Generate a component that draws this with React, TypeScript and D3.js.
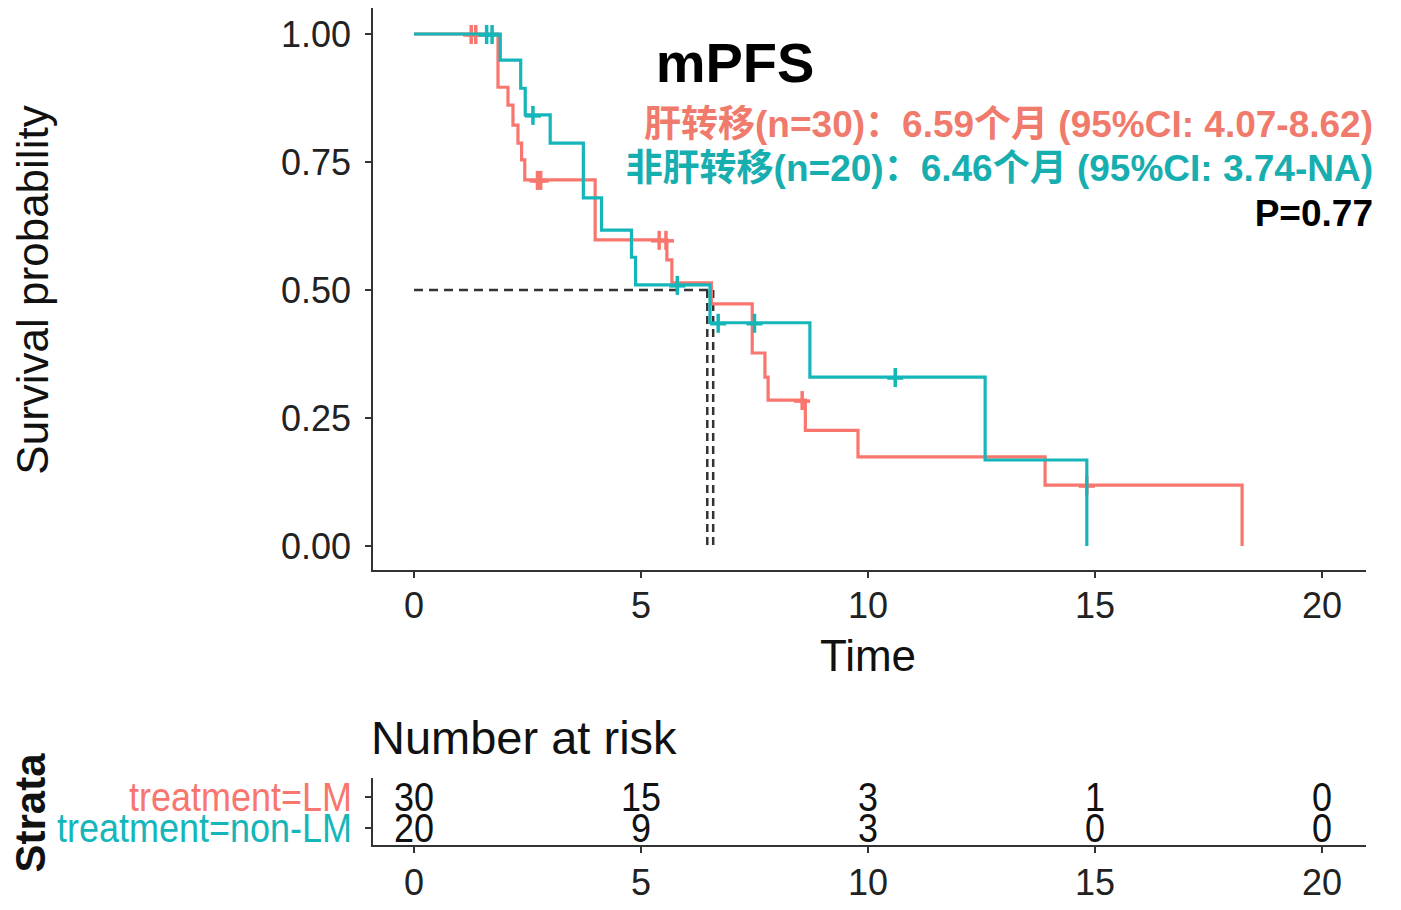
import React from "react";
import * as d3 from "d3";

// ---- Data ----
const lmTimes = [0, 1.85, 2.07, 2.18, 2.29, 2.37, 2.44, 3.99, 5.57, 5.68, 6.55, 7.45, 7.73, 7.8, 8.62, 9.78, 13.9, 18.24];
const lmSurv = [1, 0.896, 0.861, 0.822, 0.787, 0.754, 0.715, 0.598, 0.559, 0.514, 0.473, 0.377, 0.33, 0.285, 0.226, 0.174, 0.119, 0];
const lmCensor = [1.26, 1.36, 2.72, 2.79, 5.4, 5.55, 8.55, 14.82];

const nlmTimes = [0, 1.9, 2.35, 2.45, 3.0, 3.73, 4.13, 4.79, 4.88, 6.52, 8.72, 12.58, 14.82];
const nlmSurv = [1, 0.949, 0.894, 0.842, 0.787, 0.68, 0.617, 0.564, 0.51, 0.436, 0.33, 0.168, 0];
const nlmCensor = [1.6, 1.72, 2.62, 5.8, 6.7, 7.5, 10.6];

const medians = [6.46, 6.59];

const xTicks = [0, 5, 10, 15, 20];
const yTicks = [0, 0.25, 0.5, 0.75, 1];
const yTickLabels = ["0.00", "0.25", "0.50", "0.75", "1.00"];

const strataLabels = ["treatment=LM", "treatment=non-LM"];
const riskLM = [30, 15, 3, 1, 0];
const riskNLM = [20, 9, 3, 0, 0];

const annotLM = "肝转移(n=30)：6.59个月 (95%CI: 4.07-8.62)";
const annotNLM = "非肝转移(n=20)：6.46个月 (95%CI: 3.74-NA)";
const annotP = "P=0.77";
const title = "mPFS";

const RED = "#F8766D";
const TEAL = "#14B6BA";
const RED_TXT = "#F07A6B";
const TEAL_TXT = "#17AEB0";
const AXIS = "#333333";
const FONT = "'Liberation Sans', Arial, 'Noto Sans CJK SC', sans-serif";

export default function App() {
  const x = d3.scaleLinear().domain([0, 20]).range([414, 1322]);
  const y = d3.scaleLinear().domain([0, 1]).range([546, 34]);

  const line = d3
    .line<[number, number]>()
    .x((d) => x(d[0]))
    .y((d) => y(d[1]))
    .curve(d3.curveStepAfter);

  const pts = (t: number[], s: number[]) => t.map((v, i) => [v, s[i]] as [number, number]);
  const survAt = (t: number[], s: number[], tt: number) => {
    let v = 1;
    for (let i = 0; i < t.length; i++) if (t[i] <= tt) v = s[i];
    return v;
  };

  const plus = (cx: number, cy: number, color: string, key: string) => (
    <g key={key} stroke={color} strokeWidth={3.5}>
      <line x1={cx - 8} x2={cx + 8} y1={cy + 1} y2={cy + 1} />
      <line x1={cx} x2={cx} y1={cy - 9} y2={cy + 10} />
    </g>
  );

  const riskY = [797, 828];
  const rx = d3.scaleLinear().domain([0, 20]).range([414, 1322]);

  return (
    <svg
      width={1401}
      height={910}
      style={{ position: "absolute", left: 0, top: 0, background: "#fff" }}
      fontFamily={FONT}
    >
      <rect width={1401} height={910} fill="#fff" />
      {/* Axes */}
      <line x1={372} x2={372} y1={8} y2={572} stroke={AXIS} strokeWidth={2} />
      <line x1={371} x2={1366} y1={571} y2={571} stroke={AXIS} strokeWidth={2} />
      {yTicks.map((t, i) => (
        <g key={"yt" + i}>
          <line x1={365} x2={372} y1={y(t)} y2={y(t)} stroke={AXIS} strokeWidth={2} />
          <text x={351} y={y(t)} textAnchor="end" dominantBaseline="central" fontSize={36} fill="#222">
            {yTickLabels[i]}
          </text>
        </g>
      ))}
      {xTicks.map((t, i) => (
        <g key={"xt" + i}>
          <line x1={x(t)} x2={x(t)} y1={571} y2={578} stroke={AXIS} strokeWidth={2} />
          <text x={x(t)} y={605} textAnchor="middle" dominantBaseline="central" fontSize={36} fill="#222">
            {t}
          </text>
        </g>
      ))}
      <text x={868} y={655} textAnchor="middle" dominantBaseline="central" fontSize={44} fill="#111">
        Time
      </text>
      <text
        transform={`translate(32,290) rotate(-90)`}
        textAnchor="middle"
        dominantBaseline="central"
        fontSize={44}
        fill="#111"
      >
        Survival probability
      </text>

      {/* Median lines */}
      <line
        x1={x(0)}
        x2={x(medians[1])}
        y1={y(0.5)}
        y2={y(0.5)}
        stroke="#333"
        strokeWidth={2.5}
        strokeDasharray="9,6"
      />
      {medians.map((m, i) => (
        <line
          key={"md" + i}
          x1={x(m)}
          x2={x(m)}
          y1={y(0.5)}
          y2={y(0)}
          stroke="#333"
          strokeWidth={2.5}
          strokeDasharray="8,5"
        />
      ))}

      {/* Curves */}
      <path d={line(pts(lmTimes, lmSurv)) || ""} fill="none" stroke={RED} strokeWidth={3.2} />
      {lmCensor.map((c, i) => plus(x(c), y(survAt(lmTimes, lmSurv, c)), RED, "lc" + i))}
      <path d={line(pts(nlmTimes, nlmSurv)) || ""} fill="none" stroke={TEAL} strokeWidth={3.2} />
      {nlmCensor.map((c, i) => plus(x(c), y(survAt(nlmTimes, nlmSurv, c)), TEAL, "nc" + i))}

      {/* Title & annotations */}
      <text x={735} y={62} textAnchor="middle" dominantBaseline="central" fontSize={56} fontWeight="bold" fill="#000">
        {title}
      </text>
      <text x={1373} y={124} textAnchor="end" dominantBaseline="central" fontSize={37} fontWeight="bold" fill={RED_TXT}>
        {annotLM}
      </text>
      <text x={1373} y={168} textAnchor="end" dominantBaseline="central" fontSize={37} fontWeight="bold" fill={TEAL_TXT}>
        {annotNLM}
      </text>
      <text x={1373} y={213} textAnchor="end" dominantBaseline="central" fontSize={37} fontWeight="bold" fill="#000">
        {annotP}
      </text>

      {/* Risk table */}
      <text x={371} y={737} dominantBaseline="central" fontSize={47} fill="#111">
        Number at risk
      </text>
      <line x1={372} x2={372} y1={778} y2={847} stroke={AXIS} strokeWidth={2} />
      <line x1={371} x2={1366} y1={846} y2={846} stroke={AXIS} strokeWidth={2} />
      {riskY.map((ry, i) => (
        <g key={"ry" + i}>
          <line x1={365} x2={372} y1={ry} y2={ry} stroke={AXIS} strokeWidth={2} />
          <text
            transform={`translate(352,${ry}) scale(1,1.15)`}
            textAnchor="end"
            dominantBaseline="central"
            fontSize={36}
            fill={i === 0 ? RED : TEAL}
          >
            {strataLabels[i]}
          </text>
        </g>
      ))}
      {xTicks.map((t, i) => (
        <g key={"rt" + i}>
          <line x1={rx(t)} x2={rx(t)} y1={846} y2={853} stroke={AXIS} strokeWidth={2} />
          <text x={rx(t)} y={882} textAnchor="middle" dominantBaseline="central" fontSize={36} fill="#222">
            {t}
          </text>
          <text
            transform={`translate(${rx(t)},${riskY[0]}) scale(1,1.15)`}
            textAnchor="middle"
            dominantBaseline="central"
            fontSize={36}
            fill="#111"
          >
            {riskLM[i]}
          </text>
          <text
            transform={`translate(${rx(t)},${riskY[1]}) scale(1,1.15)`}
            textAnchor="middle"
            dominantBaseline="central"
            fontSize={36}
            fill="#111"
          >
            {riskNLM[i]}
          </text>
        </g>
      ))}
      <text
        transform={`translate(30,813) rotate(-90)`}
        textAnchor="middle"
        dominantBaseline="central"
        fontSize={42}
        fontWeight="bold"
        fill="#111"
      >
        Strata
      </text>
    </svg>
  );
}
